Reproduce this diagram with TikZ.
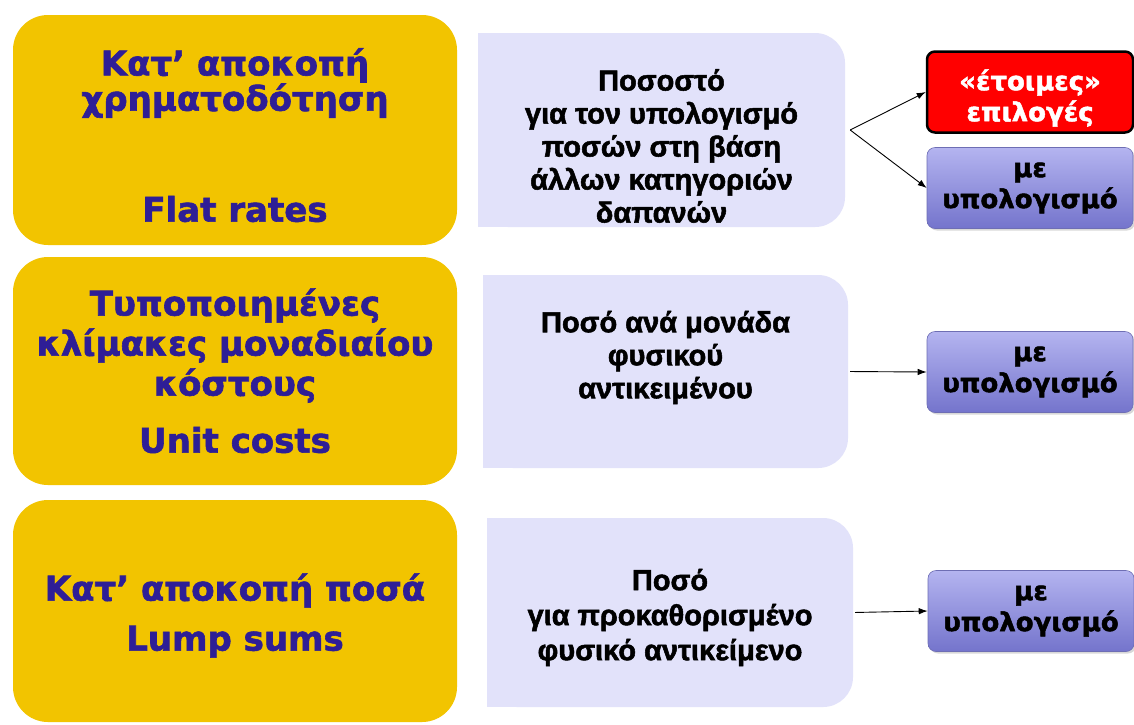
\documentclass[tikz,border=0pt]{standalone}
\usepackage{fontspec}
\setmainfont{DejaVu Sans}
\newfontfamily\vbfont[FakeBold=1.8]{DejaVu Sans Bold}
\newfontfamily\abfont[FakeBold=1.8]{Liberation Sans Bold}
\usetikzlibrary{arrows.meta,shadows}
\definecolor{ygold}{RGB}{242,196,0}
\definecolor{ytext}{RGB}{46,30,150}
\definecolor{lav}{RGB}{226,226,250}
\definecolor{ptop}{RGB}{180,180,240}
\definecolor{pbot}{RGB}{116,116,204}
\definecolor{pedge}{RGB}{110,110,180}
\definecolor{redbox}{RGB}{255,0,0}
\begin{document}
\begin{tikzpicture}[x=1pt,y=-1pt,
  ybox/.style={fill=ygold, rounded corners=35pt, inner sep=0pt, minimum width=444pt},
  ylab/.style={text=ytext, font=\vbfont\fontsize{34}{34}\selectfont, align=center, inner sep=0pt},
  mbox/.style={fill=lav, rounded corners=30pt, inner sep=0pt},
  mlab/.style={font=\abfont\fontsize{29}{33}\selectfont, align=center, inner sep=0pt},
  rbox/.style={rounded corners=8pt, minimum width=206pt, minimum height=81pt, inner sep=0pt,
     align=center, font=\vbfont\fontsize{26}{31}\selectfont},
  pbox/.style={rbox, top color=ptop, bottom color=pbot, draw=pedge, line width=0.6pt,
     drop shadow={shadow xshift=2pt, shadow yshift=-2pt, opacity=0.3}},
  redb/.style={rbox, fill=redbox, draw=black, line width=2.5pt},
  rlab/.style={text=white, align=center, inner sep=0pt, font=\vbfont\fontsize{26}{31}\selectfont},
  arr/.style={-{Latex[length=9pt,width=6.5pt]}, line width=0.9pt}
]
\fill[white] (0,0) rectangle (1134,724);
\useasboundingbox (0,0) rectangle (1134,724);

% left yellow boxes
\node[ybox, minimum height=230pt] (y1) at (235,130) {};
\node[ybox, minimum height=228pt] (y2) at (235,371) {};
\node[ybox, minimum height=222pt] (y3) at (235,611) {};
\node[ylab] (y1a) at (235,83) {Κατ’ αποκοπή\\χρηματοδότηση};
\node[ylab] (y1b) at (235,209) {Flat rates};
\node[ylab, font=\vbfont\fontsize{34}{40}\selectfont] (y2a) at (235,345.5) {Τυποποιημένες\\κλίμακες μοναδιαίου\\κόστους};
\node[ylab] (y2b) at (235,440) {Unit costs};
\node[ylab, font=\vbfont\fontsize{34}{50}\selectfont] (y3a) at (235,615.5) {Κατ’ αποκοπή ποσά\\Lump sums};

% middle boxes (rounded on the right side only)
\node[mbox, minimum width=367pt, minimum height=194pt] (m1) at (661.5,130) {};
\node[mbox, minimum width=365pt, minimum height=193pt] (m2) at (665.5,371.5) {};
\node[mbox, minimum width=366pt, minimum height=189pt] (m3) at (670,612.5) {};
\fill[lav] (m1.north west) rectangle (m1.south);
\fill[lav] (m2.north west) rectangle (m2.south);
\fill[lav] (m3.north west) rectangle (m3.south);
\node[mlab] (m1t) at (661.5,146) {Ποσοστό\\για τον υπολογισμό\\ποσών στη βάση\\άλλων κατηγοριών\\δαπανών};
\node[mlab] (m2t) at (665.5,357.5) {Ποσό ανά μονάδα\\φυσικού\\αντικειμένου};
\node[mlab, font=\abfont\fontsize{29}{35}\selectfont] (m3t) at (670,617.5) {Ποσό\\για προκαθορισμένο\\φυσικό αντικείμενο};

% right boxes
\node[redb] (r1) at (1030,92) {};
\node[rlab] (r1t) at (1030,98) {«έτοιμες»\\επιλογές};
\node[pbox] (p1) at (1030,188) {με\\υπολογισμό};
\node[pbox] (p2) at (1030,372) {με\\υπολογισμό};
\node[pbox] (p3) at (1031,611) {με\\υπολογισμό};

% connectors
\coordinate (s1) at ([xshift=5pt]m1.east);
\draw[arr] (s1) -- (r1.west);
\draw[arr] (s1) -- (p1.west);
\draw[arr, shorten <=2pt] (m2.east) -- (p2.west);
\draw[arr, shorten <=2pt] (m3.east) -- (p3.west);
\end{tikzpicture}
\end{document}
